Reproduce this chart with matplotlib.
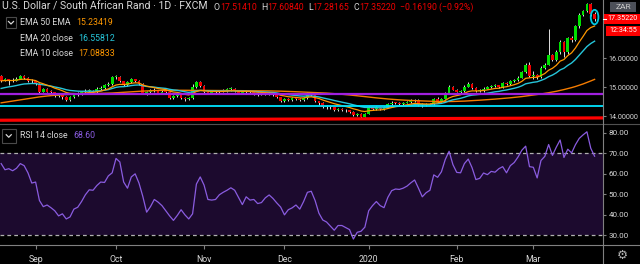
import matplotlib
matplotlib.use('Agg')
import matplotlib.pyplot as plt
from matplotlib.patches import Rectangle, Ellipse
from matplotlib.lines import Line2D
from matplotlib.text import Annotation
import numpy as np
import pandas as pd

# USD/ZAR daily candles (first bar 20 Aug 2019)
start_date = '2019-08-20'
first_open = 15.38
closes = [15.22, 15.27, 15.25, 15.22, 15.30, 15.38, 15.33, 15.20, 15.20, 15.12,
          14.85, 14.93, 14.85, 14.83, 14.70, 14.75, 14.65, 14.55, 14.65, 14.75,
          14.76, 14.82, 14.88, 14.88, 14.82, 14.95, 14.97, 15.08, 15.10, 15.35,
          15.35, 15.20, 15.07, 15.17, 15.27, 15.22, 15.12, 14.78, 14.83, 14.90,
          14.88, 14.80, 14.85, 14.84, 14.63, 14.70, 14.77, 14.63, 14.60, 14.63,
          15.00, 15.17, 15.05, 14.85, 14.78, 14.83, 14.82, 14.85, 14.87, 14.93,
          14.93, 14.86, 14.78, 14.84, 14.83, 14.86, 14.78, 14.77, 14.80, 14.77,
          14.78, 14.72, 14.65, 14.52, 14.60, 14.55, 14.62, 14.58, 14.56, 14.62,
          14.78, 14.72, 14.52, 14.47, 14.32, 14.33, 14.31, 14.22, 14.25, 14.20,
          14.20, 14.15, 14.05, 14.08, 13.98, 14.08, 14.30, 14.25, 14.27, 14.24,
          14.30, 14.42, 14.47, 14.46, 14.42, 14.46, 14.50, 14.54, 14.55, 14.38,
          14.39, 14.40, 14.42, 14.58, 14.52, 14.60, 14.78, 15.02, 14.92, 14.85,
          14.86, 15.02, 15.12, 14.98, 14.86, 14.88, 14.95, 15.00, 15.05, 15.06,
          15.00, 15.15, 15.10, 15.20, 15.25, 15.33, 15.52, 15.78, 15.40, 15.42,
          15.35, 15.68, 15.78, 16.10, 15.95, 16.22, 16.55, 16.20, 16.70, 16.62,
          17.10, 17.50, 17.62, 17.87, 17.5141, 17.3522]
highs = [15.42, 15.33, 15.30, 15.31, 15.34, 15.43, 15.42, 15.35, 15.28, 15.23,
         15.14, 14.97, 14.96, 14.90, 14.85, 14.78, 14.77, 14.68, 14.68, 14.79,
         14.82, 14.86, 14.93, 14.94, 14.91, 14.99, 15.03, 15.12, 15.17, 15.40,
         15.42, 15.38, 15.22, 15.20, 15.33, 15.30, 15.25, 15.15, 14.88, 14.95,
         14.96, 14.90, 14.89, 14.90, 14.86, 14.73, 14.82, 14.80, 14.66, 14.67,
         15.12, 15.22, 15.20, 15.07, 14.88, 14.87, 14.88, 14.89, 14.94, 14.97,
         15.00, 14.97, 14.89, 14.88, 14.90, 14.91, 14.88, 14.83, 14.84, 14.83,
         14.84, 14.80, 14.74, 14.67, 14.63, 14.62, 14.66, 14.65, 14.62, 14.66,
         14.83, 14.80, 14.74, 14.54, 14.49, 14.38, 14.37, 14.33, 14.28, 14.27,
         14.25, 14.22, 14.17, 14.12, 14.10, 14.12, 14.34, 14.33, 14.36, 14.30,
         14.34, 14.46, 14.52, 14.50, 14.49, 14.50, 14.54, 14.58, 14.60, 14.58,
         14.45, 14.47, 14.47, 14.62, 14.65, 14.64, 14.82, 15.07, 15.05, 14.95,
         14.92, 15.06, 15.17, 15.15, 15.01, 14.94, 14.99, 15.04, 15.09, 15.12,
         15.09, 15.19, 15.18, 15.24, 15.29, 15.37, 15.56, 15.82, 15.86, 15.55,
         15.46, 15.72, 15.84, 17.00, 16.15, 16.28, 16.62, 16.60, 16.75, 16.76,
         17.15, 17.56, 17.68, 17.92, 17.90, 17.6084]
lows = [15.18, 15.20, 15.08, 15.19, 15.20, 15.27, 15.30, 15.17, 15.13, 15.08,
        14.80, 14.82, 14.82, 14.78, 14.66, 14.66, 14.60, 14.52, 14.53, 14.62,
        14.70, 14.73, 14.80, 14.83, 14.79, 14.80, 14.92, 14.95, 15.04, 15.08,
        15.30, 15.17, 15.03, 15.05, 15.15, 15.18, 15.08, 14.75, 14.74, 14.80,
        14.84, 14.76, 14.77, 14.79, 14.60, 14.60, 14.67, 14.59, 14.52, 14.56,
        14.60, 14.98, 15.02, 14.80, 14.75, 14.75, 14.78, 14.78, 14.83, 14.84,
        14.88, 14.83, 14.75, 14.75, 14.78, 14.79, 14.74, 14.70, 14.73, 14.73,
        14.72, 14.69, 14.62, 14.49, 14.50, 14.52, 14.53, 14.55, 14.52, 14.54,
        14.60, 14.68, 14.48, 14.40, 14.29, 14.26, 14.26, 14.19, 14.17, 14.17,
        14.16, 14.12, 14.02, 14.01, 13.95, 13.96, 14.06, 14.20, 14.22, 14.20,
        14.21, 14.28, 14.40, 14.42, 14.39, 14.40, 14.44, 14.47, 14.50, 14.35,
        14.32, 14.35, 14.37, 14.40, 14.49, 14.50, 14.58, 14.76, 14.89, 14.82,
        14.78, 14.84, 15.00, 14.95, 14.82, 14.83, 14.85, 14.93, 14.98, 15.01,
        14.97, 14.98, 15.06, 15.08, 15.18, 15.23, 15.31, 15.50, 15.36, 15.28,
        15.30, 15.32, 15.64, 15.75, 15.90, 15.92, 16.15, 16.05, 16.15, 16.55,
        16.58, 17.05, 17.45, 17.58, 17.45, 17.28165]

# RSI 14 close
rsi = [65.0, 62.0, 62.5, 61.5, 62.7, 65.0, 64.0, 60.5, 55.5, 56.0,
       47.0, 44.0, 44.8, 43.5, 42.0, 39.5, 40.5, 38.0, 39.0, 42.8,
       43.7, 46.5, 49.8, 52.2, 52.0, 54.3, 56.0, 55.8, 59.0, 60.5,
       67.5, 65.8, 56.0, 53.0, 58.5, 60.0, 55.5, 49.0, 41.3, 44.0,
       47.5, 46.2, 44.5, 42.0, 39.5, 37.3, 39.7, 42.5, 40.0, 38.0,
       40.5, 55.0, 58.5, 54.5, 47.5, 47.2, 47.5, 49.8, 51.0, 52.0,
       53.2, 52.0, 48.5, 45.0, 48.8, 47.2, 47.5, 45.5, 46.0, 48.3,
       49.7, 48.0, 45.8, 43.8, 40.0, 42.5, 43.4, 44.8, 42.8, 46.5,
       51.0, 51.5, 47.0, 40.8, 37.5, 36.5, 34.5, 32.5, 34.8, 34.8,
       33.8, 32.8, 28.2, 31.5, 32.0, 34.0, 42.0, 44.5, 46.5, 44.5,
       43.5, 48.5, 51.8, 52.6, 52.4, 53.0, 54.0, 55.6, 57.0, 53.0,
       48.8, 50.8, 52.0, 59.5, 58.3, 61.0, 67.0, 71.0, 64.5, 60.7,
       60.5, 65.0, 67.2, 63.0, 57.2, 57.8, 60.4, 59.6, 61.2, 60.8,
       62.5, 63.5, 60.5, 64.0, 65.5, 68.2, 71.5, 73.5, 63.5, 63.2,
       58.0, 66.5, 68.5, 74.3, 69.0, 73.0, 76.5, 68.0, 72.0, 70.2,
       74.2, 77.3, 79.0, 80.5, 72.5, 68.6]

# EMA starting values at the first visible bar (history before it is not shown)
ema_seed = {10: 15.22, 20: 14.93, 50: 14.44}

# values printed in the legends
legend_vals = ['15.23419', '16.55812', '17.08833']
rsi_label = '68.60'
last_price = '17.35220'
countdown = '12:34:55'

# drawn levels
purple_level = 14.75
cyan_level = 14.34
red_line = [13.86, 13.94]

BG = '#000000'
GREEN = '#00e000'
RED = '#f00000'
ORANGE = '#f57c00'
ORANGE2 = '#ff9800'
TEAL = '#26c6da'
TXT = '#d8d8d8'
FONT = 'Roboto'

plt.rcParams['font.family'] = [FONT, 'DejaVu Sans']

W, H = 640, 264
fig = plt.figure(figsize=(W / 100, H / 100), dpi=100, facecolor=BG)


def fx(x):
    return x / W


def fy(y):
    return 1 - y / H


ax = fig.add_axes([0, fy(124), fx(603), 124 / H], facecolor=BG)
ax_rsi = fig.add_axes([0, fy(245), fx(603), 121 / H], facecolor=BG, sharex=ax)

closes = np.array(closes)
highs = np.array(highs)
lows = np.array(lows)
opens = np.r_[first_open, closes[:-1]]
x = np.arange(len(closes))
dates = pd.bdate_range(start_date, periods=len(closes))

# candles
up = closes >= opens
body_lo = np.minimum(opens, closes)
body_h = np.maximum(np.abs(closes - opens), 0.03)
ax.vlines(x, lows, highs, color='#e0e0e0', lw=0.7, zorder=1)
ax.bar(x, body_h, bottom=body_lo, width=0.72,
       color=np.where(up, GREEN, RED), linewidth=0, zorder=2)


def ema(values, seed, span):
    s = pd.Series(np.r_[seed, values])
    return s.ewm(span=span, adjust=False).mean().to_numpy()[1:]


ema10 = ema(closes, ema_seed[10], 10)
ema20 = ema(closes, ema_seed[20], 20)
# "EMA 50 EMA": the 50 EMA takes the 20 EMA as its source
ema50 = ema(ema20, ema_seed[50], 50)
ax.plot(x, ema50, color=ORANGE, lw=1.0, zorder=3)
ax.plot(x, ema20, color=TEAL, lw=1.0, zorder=3)
ax.plot(x, ema10, color=ORANGE2, lw=0.9, zorder=3)

xl = (-0.3, 157.2)
ax.axhline(purple_level, color='#a020e0', lw=1.6, zorder=3)
ax.axhline(cyan_level, color='#00e5ff', lw=1.3, zorder=3)
ax.plot(xl, red_line, color='#ff0000', lw=2.3, zorder=3, solid_capstyle='butt')

# circle around the last bar
ax.add_patch(Ellipse((x[-1], 17.42), 2.0, 0.5, fill=False,
                     edgecolor='#00c8e0', lw=1.3, zorder=4))

ax.set_xlim(*xl)
ax.set_ylim(13.73, 18.01)
ax.yaxis.tick_right()
ax.set_yticks([14, 15, 16])
ax.set_yticklabels([f'{v:.5f}' for v in [14, 15, 16]])
ax.tick_params(axis='y', colors='#808080', labelcolor=TXT, labelsize=5.1,
               length=2.5, pad=1.5)
ax.tick_params(axis='x', bottom=False, labelbottom=False)
for s in ax.spines.values():
    s.set_visible(False)

# RSI pane
ax_rsi.axhspan(30, 70, color='#1c0a2e', lw=0, zorder=0)
for lvl in (70, 30):
    ax_rsi.axhline(lvl, color='#b0b0b0', lw=0.9, dashes=(3, 2.5), zorder=1)
ax_rsi.plot(x, rsi, color='#8a5ce0', lw=0.9, zorder=2)
ax_rsi.set_ylim(25.3, 84.3)
ax_rsi.yaxis.tick_right()
rsi_ticks = [30, 40, 50, 60, 70, 80]
ax_rsi.set_yticks(rsi_ticks)
ax_rsi.set_yticklabels([f'{v:.2f}' for v in rsi_ticks])
ax_rsi.tick_params(axis='y', colors='#808080', labelcolor=TXT, labelsize=5.8,
                   length=2.5, pad=1.5)

# month ticks
month_pos, month_lab = [], []
for i in range(1, len(dates)):
    if dates[i].month != dates[i - 1].month:
        month_pos.append(i)
        month_lab.append(str(dates[i].year) if dates[i].month == 1
                         else dates[i].strftime('%b'))
ax_rsi.set_xticks(month_pos)
ax_rsi.set_xticklabels(month_lab)
ax_rsi.tick_params(axis='x', colors='#808080', labelcolor=TXT, labelsize=6.3,
                   length=3, pad=4)
for s in ax_rsi.spines.values():
    s.set_visible(False)

# frame lines
fig.add_artist(Line2D([0, 1], [fy(124), fy(124)], color='#505050', lw=0.8))
fig.add_artist(Line2D([0, 1], [fy(245), fy(245)], color='#808080', lw=0.8))
fig.add_artist(Line2D([fx(603), fx(603)], [0, 1], color='#808080', lw=0.8))


def chain(x0, y0, parts, size):
    t = fig.text(fx(x0), fy(y0), parts[0][0], color=parts[0][1],
                 fontsize=size, va='center', ha='left')
    for txt, col, gap in parts[1:]:
        t = fig.add_artist(Annotation(txt, xy=(1, 0), xycoords=t,
                                      xytext=(gap, 0), textcoords='offset points',
                                      color=col, fontsize=size, va='bottom',
                                      ha='left'))
    return t


chain(2, 7, [('U.S. Dollar / South African Rand · 1D · FXCM', TXT)], 7.6)
chain(214, 7, [('O', TXT), ('17.51410', RED, 0), ('H', TXT, 3),
               ('17.60840', RED, 0), ('L', TXT, 3), ('17.28165', RED, 0),
               ('C', TXT, 3), ('17.35220', RED, 0),
               ('−0.16190 (−0.92%)', RED, 3)], 6.3)

legend_rows = [(22.5, 'EMA 50 EMA', legend_vals[0], ORANGE2),
               (38.5, 'EMA 20 close', legend_vals[1], TEAL),
               (54, 'EMA 10 close', legend_vals[2], ORANGE2)]
for yy, name, val, col in legend_rows:
    chain(20, yy, [(name, TXT), (val, col, 4)], 6.3)
chain(20, 135, [('RSI 14 close', TXT), (rsi_label, '#8a5ce0', 4)], 6.3)


def chevron_box(x0, y0, x1, y1):
    fig.add_artist(Rectangle((fx(x0), fy(y1)), fx(x1 - x0), (y1 - y0) / H,
                             fill=False, edgecolor='#4a4a4a', lw=0.8))
    cx, cy = (x0 + x1) / 2, (y0 + y1) / 2
    fig.add_artist(Line2D([fx(cx - 2.5), fx(cx), fx(cx + 2.5)],
                          [fy(cy - 1), fy(cy + 1.5), fy(cy - 1)],
                          color=TXT, lw=0.9))


chevron_box(6, 17, 16, 28)
chevron_box(2, 129, 15.5, 142.5)

# price scale labels
fig.add_artist(Rectangle((fx(610), fy(12)), fx(26), 10 / H,
                         facecolor='#4c5059', edgecolor='none'))
fig.text(fx(623), fy(7), 'ZAR', color='#c8c8c8', fontsize=6, ha='center',
         va='center')
fig.add_artist(Rectangle((fx(603), fy(24)), fx(37), 10 / H,
                         facecolor='#ff0000', edgecolor='none'))
fig.add_artist(Line2D([fx(603), fx(606)], [fy(19), fy(19)], color='white', lw=0.8))
fig.text(fx(623), fy(19), last_price, color='white', fontsize=5.2,
         ha='center', va='center')
fig.add_artist(Rectangle((fx(606), fy(35.5)), fx(34), 9.5 / H,
                         facecolor='#ff0000', edgecolor='none'))
fig.text(fx(623), fy(30.7), countdown, color='white', fontsize=5.2,
         ha='center', va='center')

fig.text(fx(622), fy(255), '⚙', color='#b0b0b0', fontsize=9, ha='center',
         va='center', family='DejaVu Sans')

fig.savefig('out.png', dpi=100, facecolor=BG)
